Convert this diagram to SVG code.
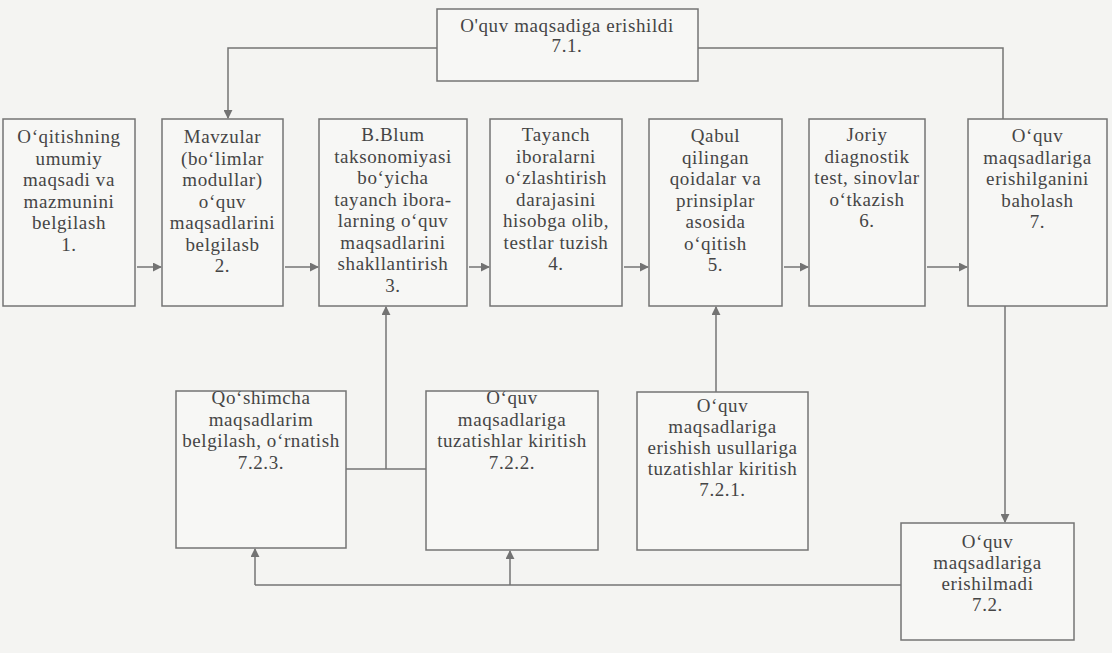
<svg xmlns="http://www.w3.org/2000/svg" width="1112" height="653" viewBox="0 0 1112 653">
<defs>
<marker id="ah" viewBox="0 0 10 10" refX="9" refY="5" markerWidth="9" markerHeight="9" markerUnits="userSpaceOnUse" orient="auto">
<path d="M0,0 L10,5 L0,10 z" fill="#737373"/>
</marker>
<style>
.bx{fill:#f7f7f5;stroke:#747474;stroke-width:1.5}
.t{font-family:"Liberation Serif","Times New Roman",serif;font-size:19px;fill:#454545;text-anchor:middle;letter-spacing:0.6px}
.c{fill:none;stroke:#747474;stroke-width:1.5}
.ca{fill:none;stroke:#747474;stroke-width:1.5;marker-end:url(#ah)}
</style>
</defs>
<rect width="1112" height="653" fill="#f4f4f2"/>

<g id="n71">
<rect class="bx" x="437" y="9" width="261" height="72"/>
<text class="t"><tspan x="567" y="32">O'quv maqsadiga erishildi</tspan><tspan x="567" y="52">7.1.</tspan></text>
</g>

<g id="n1">
<rect class="bx" x="3" y="119" width="132" height="187"/>
<text class="t"><tspan x="69" y="143">O‘qitishning</tspan><tspan x="69" y="164.5">umumiy</tspan><tspan x="69" y="186">maqsadi va</tspan><tspan x="69" y="207.5">mazmunini</tspan><tspan x="69" y="229">belgilash</tspan><tspan x="69" y="250.5">1.</tspan></text>
</g>

<g id="n2">
<rect class="bx" x="162" y="119" width="121" height="187"/>
<text class="t"><tspan x="222.5" y="143">Mavzular</tspan><tspan x="222.5" y="164.5">(bo‘limlar</tspan><tspan x="222.5" y="186">modullar)</tspan><tspan x="222.5" y="207.5">o‘quv</tspan><tspan x="222.5" y="229">maqsadlarini</tspan><tspan x="222.5" y="250.5">belgilasb</tspan><tspan x="222.5" y="272">2.</tspan></text>
</g>

<g id="n3">
<rect class="bx" x="319" y="119" width="148" height="187"/>
<text class="t"><tspan x="393" y="141">B.Blum</tspan><tspan x="393" y="162.5">taksonomiyasi</tspan><tspan x="393" y="184">bo‘yicha</tspan><tspan x="393" y="205.5">tayanch ibora-</tspan><tspan x="393" y="227">larning o‘quv</tspan><tspan x="393" y="248.5">maqsadlarini</tspan><tspan x="393" y="270">shakllantirish</tspan><tspan x="393" y="291.5">3.</tspan></text>
</g>

<g id="n4">
<rect class="bx" x="490" y="119" width="132" height="187"/>
<text class="t"><tspan x="556" y="141">Tayanch</tspan><tspan x="556" y="162.5">iboralarni</tspan><tspan x="556" y="184">o‘zlashtirish</tspan><tspan x="556" y="205.5">darajasini</tspan><tspan x="556" y="227">hisobga olib,</tspan><tspan x="556" y="248.5">testlar tuzish</tspan><tspan x="556" y="270">4.</tspan></text>
</g>

<g id="n5">
<rect class="bx" x="649" y="119" width="133" height="187"/>
<text class="t"><tspan x="715.5" y="142">Qabul</tspan><tspan x="715.5" y="163.5">qilingan</tspan><tspan x="715.5" y="185">qoidalar va</tspan><tspan x="715.5" y="206.5">prinsiplar</tspan><tspan x="715.5" y="228">asosida</tspan><tspan x="715.5" y="249.5">o‘qitish</tspan><tspan x="715.5" y="271">5.</tspan></text>
</g>

<g id="n6">
<rect class="bx" x="809" y="119" width="116" height="187"/>
<text class="t"><tspan x="867" y="141">Joriy</tspan><tspan x="867" y="162.5">diagnostik</tspan><tspan x="867" y="184">test, sinovlar</tspan><tspan x="867" y="205.5">o‘tkazish</tspan><tspan x="867" y="227">6.</tspan></text>
</g>

<g id="n7">
<rect class="bx" x="968" y="119" width="139" height="187"/>
<text class="t"><tspan x="1037.5" y="142">O‘quv</tspan><tspan x="1037.5" y="163.5">maqsadlariga</tspan><tspan x="1037.5" y="185">erishilganini</tspan><tspan x="1037.5" y="206.5">baholash</tspan><tspan x="1037.5" y="228">7.</tspan></text>
</g>

<g id="n723">
<rect class="bx" x="176" y="391" width="170" height="157"/>
<text class="t"><tspan x="261" y="404">Qo‘shimcha</tspan><tspan x="261" y="425.5">maqsadlarim</tspan><tspan x="261" y="447">belgilash, o‘rnatish</tspan><tspan x="261" y="468.5">7.2.3.</tspan></text>
</g>

<g id="n722">
<rect class="bx" x="426" y="391" width="172" height="159"/>
<text class="t"><tspan x="512" y="404">O‘quv</tspan><tspan x="512" y="425.5">maqsadlariga</tspan><tspan x="512" y="447">tuzatishlar kiritish</tspan><tspan x="512" y="468.5">7.2.2.</tspan></text>
</g>

<g id="n721">
<rect class="bx" x="637" y="392" width="171" height="158"/>
<text class="t"><tspan x="722.5" y="412">O‘quv</tspan><tspan x="722.5" y="433">maqsadlariga</tspan><tspan x="722.5" y="454">erishish usullariga</tspan><tspan x="722.5" y="475">tuzatishlar kiritish</tspan><tspan x="722.5" y="496">7.2.1.</tspan></text>
</g>

<g id="n72">
<rect class="bx" x="901" y="523" width="173" height="117"/>
<text class="t"><tspan x="987.5" y="548">O‘quv</tspan><tspan x="987.5" y="569">maqsadlariga</tspan><tspan x="987.5" y="590">erishilmadi</tspan><tspan x="987.5" y="611">7.2.</tspan></text>
</g>

<g id="connectors">
<path class="ca" d="M437,48 H228 V118"/>
<path class="c" d="M698,48 H1003 V119"/>
<path class="ca" d="M137,267 H161"/>
<path class="ca" d="M285,267 H318"/>
<path class="ca" d="M469,267 H489"/>
<path class="ca" d="M624,267 H648"/>
<path class="ca" d="M784,267 H808"/>
<path class="ca" d="M927,267 H967"/>
<path class="c" d="M346,469 H426"/>
<path class="ca" d="M386,469 V307"/>
<path class="ca" d="M716,392 V307"/>
<path class="ca" d="M1005,306 V522"/>
<path class="c" d="M901,585 H255"/>
<path class="ca" d="M255,585 V549"/>
<path class="ca" d="M510,585 V551"/>
</g>
</svg>
